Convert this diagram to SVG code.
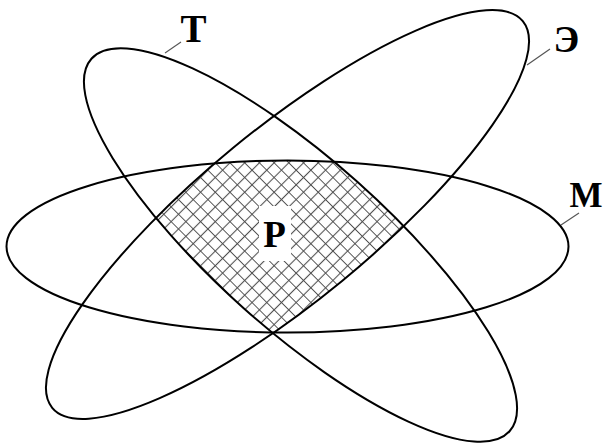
<svg xmlns="http://www.w3.org/2000/svg" width="603" height="443" viewBox="0 0 603 443">
<style>
.orb{fill:none;stroke:#000;stroke-width:2}
.lead{fill:none;stroke:#555;stroke-width:1.1}
.lbl{font-family:"Liberation Serif","Times New Roman",serif;font-weight:bold;fill:#000;text-anchor:middle}
</style>
<defs>
<pattern id="hatch" width="10.4" height="10.4" patternUnits="userSpaceOnUse" patternTransform="translate(2,1) rotate(45)">
<path d="M0,5.2H10.4M5.2,0V10.4" stroke="#505050" stroke-width="1.1" fill="none"/>
</pattern>
<clipPath id="cM"><ellipse cx="287.5" cy="246.5" rx="281" ry="86"/></clipPath>
<clipPath id="cT"><ellipse cx="0" cy="0" rx="280" ry="85" transform="translate(300.5,245) rotate(41.7)"/></clipPath>
<clipPath id="cE"><ellipse cx="0" cy="0" rx="304.5" ry="86" transform="translate(287.5,214.5) rotate(-39.4)"/></clipPath>
</defs>
<g id="region-P">
<g clip-path="url(#cT)"><g clip-path="url(#cE)"><rect x="0" y="0" width="603" height="443" fill="url(#hatch)" clip-path="url(#cM)"/></g></g>
<rect x="259" y="206" width="32" height="55" fill="#fff"/>
<text class="lbl" x="274.5" y="247" font-size="37">Р</text>
</g>
<g id="ellipse-M">
<ellipse class="orb" cx="287.5" cy="246.5" rx="281" ry="86"/>
</g>
<g id="ellipse-T">
<ellipse class="orb" cx="0" cy="0" rx="280" ry="85" transform="translate(300.5,245) rotate(41.7)"/>
</g>
<g id="ellipse-E">
<ellipse class="orb" cx="0" cy="0" rx="304.5" ry="86" transform="translate(287.5,214.5) rotate(-39.4)"/>
</g>
<g id="connectors">
<line class="lead" x1="165" y1="53" x2="181" y2="42"/>
<line class="lead" x1="527" y1="65" x2="550" y2="49"/>
<line class="lead" x1="561" y1="225" x2="579" y2="213"/>
</g>
<g id="label-T"><text class="lbl" x="193.5" y="42" font-size="39">Т</text></g>
<g id="label-E"><text class="lbl" x="566.5" y="52" font-size="38">Э</text></g>
<g id="label-M"><text class="lbl" x="586" y="207" font-size="35">М</text></g>
</svg>
